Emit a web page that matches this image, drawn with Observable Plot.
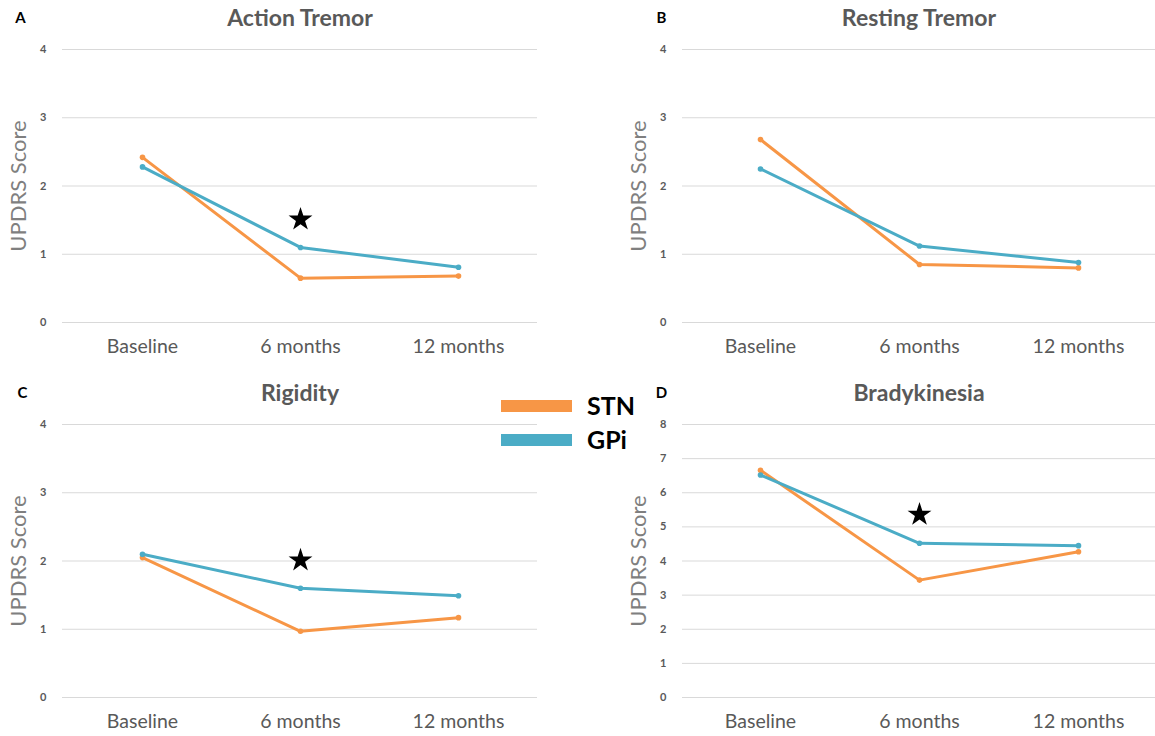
<!DOCTYPE html>
<html>
<head>
<meta charset="utf-8">
<script src="https://cdn.jsdelivr.net/npm/d3@7"></script>
<script src="https://cdn.jsdelivr.net/npm/@observablehq/plot@0.6"></script>
<style>
  html, body { margin: 0; padding: 0; background: #fff; }
  #root { position: relative; width: 1155px; height: 736px; background: #fff; overflow: hidden; font-family: Lato, "Open Sans", sans-serif; }
  .panel { position: absolute; }
  .sw { position: absolute; width: 71px; height: 12px; }
  .lt { position: absolute; font-weight: bold; font-size: 25px; color: #000; line-height: 1; }
</style>
</head>
<body>
<div id="root"></div>
<script>
const categories = ["Baseline", "6 months", "12 months"];
const series = ["STN", "GPi"];

// Panel A: Action Tremor
const stnA = [2.42, 0.65, 0.68];
const gpiA = [2.28, 1.10, 0.81];
const starA = 1.51;
// Panel B: Resting Tremor
const stnB = [2.68, 0.85, 0.80];
const gpiB = [2.25, 1.12, 0.88];
// Panel C: Rigidity
const stnC = [2.05, 0.97, 1.17];
const gpiC = [2.10, 1.60, 1.49];
const starC = 2.01;
// Panel D: Bradykinesia
const stnD = [6.66, 3.44, 4.27];
const gpiD = [6.52, 4.52, 4.45];
const starD = 5.36;

const ticks4 = [0, 1, 2, 3, 4];
const ticks8 = [0, 1, 2, 3, 4, 5, 6, 7, 8];

const ORANGE = "#F79646";
const BLUE = "#4BACC6";
const FONT = "Lato, 'Open Sans', sans-serif";

function panel(cfg) {
  const rows = [];
  categories.forEach((c, i) => {
    rows.push({cat: c, v: cfg.stn[i], s: "STN"});
    rows.push({cat: c, v: cfg.gpi[i], s: "GPi"});
  });
  const stars = cfg.star == null ? [] : [{cat: "6 months", v: cfg.star}];
  const yMax = cfg.ticks[cfg.ticks.length - 1];
  return Plot.plot({
    width: cfg.width,
    height: cfg.height,
    marginLeft: cfg.marginLeft,
    marginRight: cfg.marginRight,
    marginTop: cfg.marginTop,
    marginBottom: cfg.marginBottom,
    style: {background: "transparent", fontFamily: FONT, overflow: "visible"},
    x: {type: "point", domain: categories, range: cfg.xRange, padding: 0, axis: null},
    y: {domain: [0, yMax], axis: null},
    color: {domain: series, range: [ORANGE, BLUE]},
    marks: [
      Plot.ruleY(cfg.ticks, {stroke: "#d9d9d9", strokeWidth: 1}),
      Plot.axisY(cfg.ticks, {tickSize: 0, tickPadding: 16, tickFormat: d3.format("d"), fontSize: 11, fontWeight: "bold", color: "#595959", label: null}),
      Plot.axisX({tickSize: 0, tickPadding: 17, fontSize: 19.5, color: "#595959", label: null}),
      Plot.lineY(rows, {x: "cat", y: "v", stroke: "s", z: "s", strokeWidth: 3}),
      Plot.dot(rows, {x: "cat", y: "v", fill: "s", r: 2.8}),
      Plot.dot(stars, {x: "cat", y: "v", symbol: "star", fill: "black", r: 7.5}),
      Plot.text([cfg.title], {text: d => d, frameAnchor: "top", dy: -31, fontSize: 23, fontWeight: "bold", fill: "#595959", lineAnchor: "middle"}),
      Plot.text([cfg.letter], {text: d => d, frameAnchor: "top-left", dx: cfg.letterDx, dy: -31, fontSize: 15, fontWeight: "bold", fill: "#000", textAnchor: "middle", lineAnchor: "middle"}),
      Plot.text(["UPDRS Score"], {text: d => d, frameAnchor: "left", dx: cfg.labelDx, rotate: -90, fontSize: 22, fill: "#7f7f7f", textAnchor: "middle", lineAnchor: "middle"})
    ]
  });
}

const root = document.getElementById("root");
function place(el, left, top) {
  const wrap = document.createElement("div");
  wrap.className = "panel";
  wrap.style.left = left + "px";
  wrap.style.top = top + "px";
  wrap.appendChild(el);
  root.appendChild(wrap);
}

// A
place(panel({stn: stnA, gpi: gpiA, star: starA, ticks: ticks4, title: "Action Tremor", letter: "A",
  width: 577, height: 368, marginLeft: 62, marginRight: 40, marginTop: 49, marginBottom: 46,
  xRange: [142, 458], letterDx: -42, labelDx: -44}), 0, 0);
// B
place(panel({stn: stnB, gpi: gpiB, star: null, ticks: ticks4, title: "Resting Tremor", letter: "B",
  width: 578, height: 368, marginLeft: 105, marginRight: 0, marginTop: 49, marginBottom: 46,
  xRange: [183, 501], letterDx: -21, labelDx: -44}), 577, 0);
// C
place(panel({stn: stnC, gpi: gpiC, star: starC, ticks: ticks4, title: "Rigidity", letter: "C",
  width: 577, height: 368, marginLeft: 62, marginRight: 40, marginTop: 56, marginBottom: 39,
  xRange: [142, 458], letterDx: -40, labelDx: -44}), 0, 368);
// D
place(panel({stn: stnD, gpi: gpiD, star: starD, ticks: ticks8, title: "Bradykinesia", letter: "D",
  width: 578, height: 368, marginLeft: 105, marginRight: 0, marginTop: 56, marginBottom: 39,
  xRange: [183, 501], letterDx: -21, labelDx: -44}), 577, 368);

// Legend
const legendColors = [ORANGE, BLUE];
const legendTops = [400, 434];
series.forEach((s, i) => {
  const sw = document.createElement("div");
  sw.className = "sw";
  sw.style.left = "501px";
  sw.style.top = legendTops[i] + "px";
  sw.style.background = legendColors[i];
  root.appendChild(sw);
  const t = document.createElement("div");
  t.className = "lt";
  t.style.left = "587px";
  t.style.top = (legendTops[i] - 7) + "px";
  t.textContent = s;
  root.appendChild(t);
});
</script>
</body>
</html>
